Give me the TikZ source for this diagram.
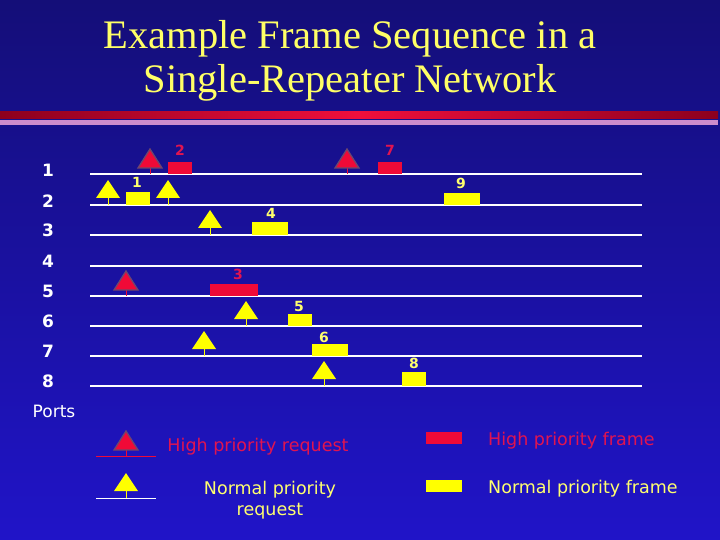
\documentclass[tikz,border=0pt]{standalone}
\usepackage{fontspec}
\setmainfont{Liberation Serif}
\newfontfamily\lblfont{DejaVu Sans}
\definecolor{bgtop}{RGB}{20,14,120}
\definecolor{bgbot}{RGB}{32,20,200}
\definecolor{myred}{RGB}{240,10,55}
\definecolor{txtred}{RGB}{225,20,80}
\definecolor{myyel}{RGB}{255,255,0}
\definecolor{txtyel}{RGB}{255,255,110}
\definecolor{titleyel}{RGB}{255,255,102}
\definecolor{trigray}{RGB}{110,70,110}
\definecolor{bardark}{RGB}{140,0,30}
\definecolor{barbright}{RGB}{240,15,60}
\definecolor{pinkbar}{RGB}{205,140,205}
\tikzset{
  portline/.style={draw=white, line width=1.1pt},
  hreq/.pic={
    \draw[myred, line width=1pt] (0,-6) -- (0,0);
    \filldraw[fill=myred, draw=trigray, line width=1.3pt, line join=miter] (-12,-6) -- (0,-25) -- (12,-6) -- cycle;
  },
  nreq/.pic={
    \draw[myyel, line width=1pt] (0,-7) -- (0,0);
    \fill[myyel] (-12,-7) -- (0,-25) -- (12,-7) -- cycle;
  },
  hnum/.style={text=txtred, font=\lblfont\bfseries\fontsize{14}{14}\selectfont, inner sep=0pt},
  nnum/.style={text=txtyel, font=\lblfont\bfseries\fontsize{14}{14}\selectfont, inner sep=0pt},
  portlbl/.style={text=white, font=\lblfont\bfseries\fontsize{17}{17}\selectfont, inner sep=0pt},
  legtxt/.style={font=\lblfont\fontsize{17.5}{21}\selectfont, inner sep=0pt},
  titletxt/.style={text=titleyel, font=\fontsize{40.5}{40.5}\selectfont, inner sep=0pt, anchor=base},
}
\begin{document}
\begin{tikzpicture}[x=1pt,y=-1pt]
\useasboundingbox (0,0) rectangle (720,540);
\shade[top color=bgtop, bottom color=bgbot] (0,0) rectangle (720,540);
% title
\node[titletxt] (t1) at (350,49) {Example Frame Sequence in a};
\node[titletxt] (t2) at (350,93) {Single-Repeater Network};
% bars
\shade[left color=bardark, right color=bardark, middle color=barbright] (0,112) rectangle (718,119);
\fill[pinkbar] (0,120.5) rectangle (718,125);
% port lines
\foreach \i/\y in {1/174,2/205,3/235,4/266,5/296,6/326,7/356,8/386}{
  \draw[portline] (90,\y) -- (642,\y);
  \node[portlbl] (p\i) at (48,\y-4-\i*0.1) {\i};
}
\node[text=white, font=\lblfont\fontsize{17}{17}\selectfont, inner sep=0pt] (ports) at (54,411) {Ports};
% line 1
\pic at (150,174) {hreq};
\fill[myred] (168,162) rectangle (192,174);
\node[hnum] (f2) at (180,150) {2};
\pic at (347,174) {hreq};
\fill[myred] (378,162) rectangle (402,174);
\node[hnum] (f7) at (390,150) {7};
% line 2
\pic at (108,205) {nreq};
\fill[myyel] (126,192) rectangle (150,205);
\node[nnum] (f1) at (137,182) {1};
\pic at (168,205) {nreq};
\fill[myyel] (444,193) rectangle (480,205);
\node[nnum] (f9) at (461,183) {9};
% line 3
\pic at (210,235) {nreq};
\fill[myyel] (252,222) rectangle (288,235);
\node[nnum] (f4) at (271,213) {4};
% line 5
\pic at (126,296) {hreq};
\fill[myred] (210,284) rectangle (258,296);
\node[hnum] (f3) at (238,274) {3};
% line 6
\pic at (246,326) {nreq};
\fill[myyel] (288,314) rectangle (312,326);
\node[nnum] (f5) at (299,306) {5};
% line 7
\pic at (204,356) {nreq};
\fill[myyel] (312,344) rectangle (348,356);
\node[nnum] (f6) at (324,337) {6};
% line 8
\pic at (324,386) {nreq};
\fill[myyel] (402,372) rectangle (426,386);
\node[nnum] (f8) at (414,363) {8};
% legend
\draw[myred, line width=1pt] (96,456) -- (156,456);
\pic at (126,456) {hreq};
\node[legtxt, text=txtred] (lhr) at (258,447) {High priority request};
\draw[white, line width=1pt] (96,498) -- (156,498);
\pic at (126,498) {nreq};
\node[legtxt, text=txtyel, align=center] (lnr) at (270,500) {Normal priority\\request};
\fill[myred] (426,432) rectangle (462,444);
\node[legtxt, text=txtred, anchor=west] (lhf) at (488,441) {High priority frame};
\fill[myyel] (426,480) rectangle (462,492);
\node[legtxt, text=txtyel, anchor=west] (lnf) at (488,489) {Normal priority frame};
\end{tikzpicture}
\end{document}
